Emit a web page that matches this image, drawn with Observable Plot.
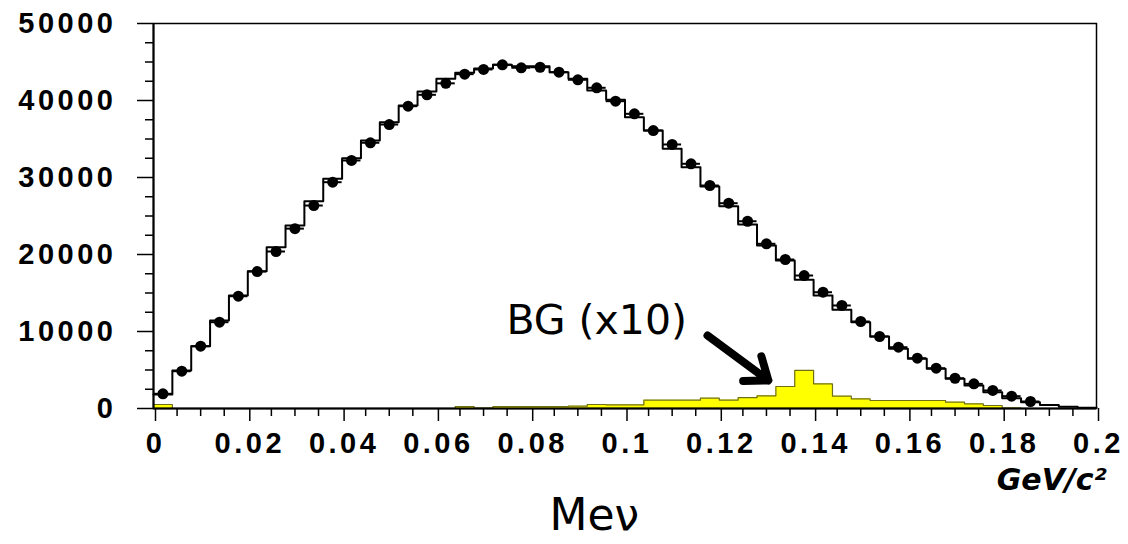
<!DOCTYPE html>
<html><head><meta charset="utf-8">
<script src="https://cdn.jsdelivr.net/npm/d3@7"></script>
<script src="https://cdn.jsdelivr.net/npm/@observablehq/plot@0.6"></script>
<style>
html,body{margin:0;padding:0;background:#fff;}
#chart{width:1128px;height:544px;}
#chart svg g[aria-label="y-axis tick label"] text,
#chart svg g[aria-label="x-axis tick label"] text { letter-spacing: 3.5px; }
</style></head><body><div id="chart"></div>
<script>
// Histogram: 50 bins of width 0.004 GeV/c^2 over [0, 0.2]
const binWidth = 0.004;
const mcCounts = [1820,4930,8090,11430,14680,17830,20950,23770,26920,29830,
  32510,34810,37180,39350,41170,42820,43600,44150,44640,44460,
  44460,43680,42820,41300,40090,37830,36100,33730,31340,28830,
  26270,23900,21170,19220,16710,14680,12820,11210,9350,7750,
  6450,5160,3860,2990,2120,1340,800,450,220,100];
const dataCounts = [1910,4840,8090,11210,14580,17790,20390,23360,26360,29390,
  32210,34510,36880,39260,40740,42230,43420,44030,44640,44250,
  44320,43680,42690,41650,39910,38270,36100,34290,31780,28960,
  26660,24320,21390,19350,17270,15100,13380,11300,9350,7960,
  6530,5230,3930,3200,2340,1600,910];
const bgCounts = [520,0,0,0,0,0,0,0,0,0,
  0,0,0,0,0,0,260,40,260,260,
  260,260,300,520,480,480,1080,1080,1080,1340,
  1100,1400,1650,2860,4950,3210,1600,1260,1040,1040,
  1040,1040,820,610,390,60,0,0,0,0];
const yTicks = [0,10000,20000,30000,40000,50000];
const yTickLabels = ["0","10000","20000","30000","40000","50000"];
const yMinorTicks = [2500,5000,7500,12500,15000,17500,22500,25000,27500,32500,35000,37500,42500,45000,47500];
const xTicks = [0,0.02,0.04,0.06,0.08,0.1,0.12,0.14,0.16,0.18,0.2];
const xTickLabels = ["0","0.02","0.04","0.06","0.08","0.1","0.12","0.14","0.16","0.18","0.2"];
const xMinorTicks = [0.005,0.01,0.015,0.025,0.03,0.035,0.045,0.05,0.055,0.065,0.07,0.075,0.085,0.09,0.095,
  0.105,0.11,0.115,0.125,0.13,0.135,0.145,0.15,0.155,0.165,0.17,0.175,0.185,0.19,0.195];
// annotations (data coordinates)
const bgLabel = [{x: 0.094, y: 11430, text: "BG (x10)"}];
const bgArrow = [{x1: 0.1175, y1: 9480, x2: 0.1304, y2: 3640}];
const unitLabel = [{x: 0.1905, y: -9300, text: "GeV/c²"}];
const axisTitle = [{x: 0.0935, y: -13900, text: "Meν"}];

const bins = mcCounts.map((v, i) => ({x0: i*binWidth, x1: (i+1)*binWidth, xc: (i+0.5)*binWidth, mc: v, bg: bgCounts[i]}));
const mcStep = bins.map(b => ({x: b.x0, y: b.mc})).concat([{x: 0.2, y: mcCounts[mcCounts.length-1]}]);
const bgStep = bins.map(b => ({x: b.x0, y: b.bg})).concat([{x: 0.2, y: bgCounts[bgCounts.length-1]}]);
const pts = dataCounts.map((v, i) => ({x0: bins[i].x0, x1: bins[i].x1, xc: bins[i].xc, y: v}));

const tickFont = {fontSize: 29, fontWeight: "bold", fontFamily: "Liberation Sans, Arial, sans-serif"};

const chart = Plot.plot({
  width: 1128, height: 544,
  marginLeft: 153, marginRight: 32, marginTop: 23, marginBottom: 136,
  x: {domain: [0, 0.2]},
  y: {domain: [0, 50000]},
  style: {background: "white", color: "black", fontFamily: "Liberation Sans, Arial, sans-serif", overflow: "visible"},
  marks: [
    Plot.areaY(bgStep, {x: "x", y: "y", curve: "step-after", fill: "#ffff00"}),
    Plot.line(bgStep, {x: "x", y: "y", curve: "step-after", stroke: "#6f6f1a", strokeWidth: 1.2}),
    Plot.axisY(yMinorTicks, {tickSize: 8, tickFormat: () => "", strokeWidth: 1.5, label: null}),
    Plot.axisY(yTicks, {tickSize: 16, tickPadding: 21, strokeWidth: 1.5, label: null,
      tickFormat: d => yTickLabels[yTicks.indexOf(d)], ...tickFont}),
    Plot.axisX(xMinorTicks, {tickSize: 8, tickFormat: () => "", strokeWidth: 1.5, label: null}),
    Plot.axisX(xTicks, {tickSize: 13, tickPadding: 11, strokeWidth: 1.5, label: null, dx: 2,
      tickFormat: d => xTickLabels[xTicks.indexOf(d)], ...tickFont}),
    Plot.frame({stroke: "black", strokeWidth: 1.5}),
    Plot.ruleX([0], {strokeWidth: 2}),
    Plot.ruleY([0], {strokeWidth: 2}),
    Plot.line(mcStep, {x: "x", y: "y", curve: "step-after", stroke: "black", strokeWidth: 2}),
    Plot.ruleY(pts, {x1: "x0", x2: "x1", y: "y", stroke: "black", strokeWidth: 2}),
    Plot.dot(pts, {x: "xc", y: "y", r: 5.5, fill: "black"}),
    Plot.arrow(bgArrow, {x1: "x1", y1: "y1", x2: "x2", y2: "y2", stroke: "black", strokeWidth: 8, headLength: 30, headAngle: 75}),
    Plot.text(bgLabel, {x: "x", y: "y", text: "text", fontSize: 41, fontFamily: "DejaVu Sans", fill: "black"}),
    Plot.text(unitLabel, {x: "x", y: "y", text: "text", fontSize: 30, fontWeight: "bold", fontStyle: "italic", fontFamily: "DejaVu Sans", fill: "black"}),
    Plot.text(axisTitle, {x: "x", y: "y", text: "text", fontSize: 44, fontFamily: "DejaVu Sans", fill: "black"})
  ]
});
document.getElementById("chart").appendChild(chart);
</script>
</body></html>
